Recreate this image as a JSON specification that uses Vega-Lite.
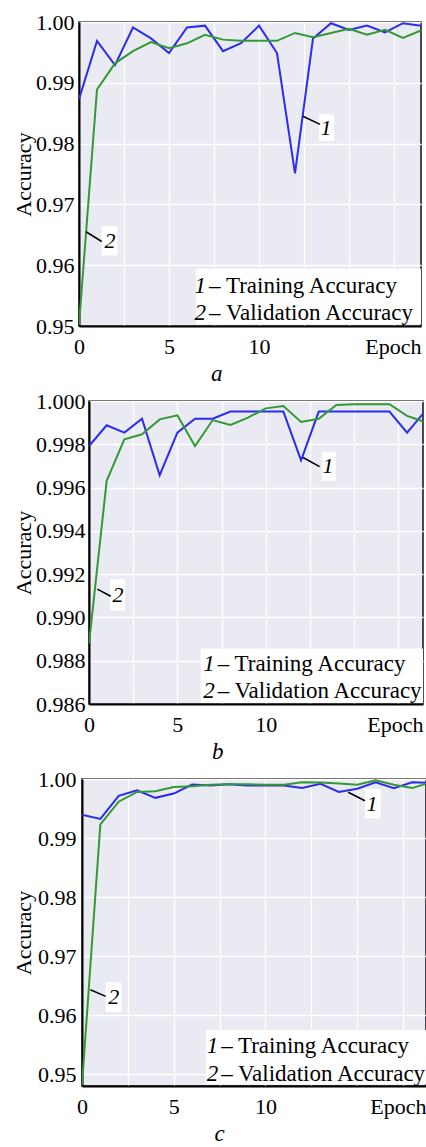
{
  "$schema": "https://vega.github.io/schema/vega-lite/v6.json",
  "padding": {"left": 0, "top": 10, "right": 0, "bottom": 0},
  "spacing": 2,
  "config": {
    "font": "Liberation Serif, Times New Roman, serif",
    "view": {"fill": "#eaeaf2", "stroke": "#111111", "strokeWidth": 1.5},
    "concat": {"spacing": 4},
    "axis": {"labelFont": "Liberation Serif, Times New Roman, serif", "labelFontSize": 22, "labelColor": "#000000", "titleFont": "Liberation Serif, Times New Roman, serif", "titleFontSize": 22, "titleFontWeight": "normal", "titleColor": "#000000", "ticks": false, "grid": true, "gridColor": "#ffffff", "gridWidth": 1.3, "domainColor": "#000000", "domainWidth": 2, "labelOverlap": false, "labelFlush": false},
    "text": {"font": "Liberation Serif, Times New Roman, serif"},
    "title": {"font": "Liberation Serif, Times New Roman, serif", "fontSize": 23, "fontStyle": "italic", "fontWeight": "normal", "color": "#000000", "orient": "bottom", "anchor": "middle", "frame": "bounds", "offset": 6}
  },
  "datasets": {
    "spacer": [{"id": 0}],
    "series": [
      {"p": "a", "s": "Training", "epoch": 0, "acc": 0.9873}, {"p": "a", "s": "Training", "epoch": 1, "acc": 0.9969}, {"p": "a", "s": "Training", "epoch": 2, "acc": 0.9929}, {"p": "a", "s": "Training", "epoch": 3, "acc": 0.9991}, {"p": "a", "s": "Training", "epoch": 4, "acc": 0.9973}, {"p": "a", "s": "Training", "epoch": 5, "acc": 0.9949}, {"p": "a", "s": "Training", "epoch": 6, "acc": 0.9991}, {"p": "a", "s": "Training", "epoch": 7, "acc": 0.9994}, {"p": "a", "s": "Training", "epoch": 8, "acc": 0.9952}, {"p": "a", "s": "Training", "epoch": 9, "acc": 0.9965}, {"p": "a", "s": "Training", "epoch": 10, "acc": 0.9994}, {"p": "a", "s": "Training", "epoch": 11, "acc": 0.9949}, {"p": "a", "s": "Training", "epoch": 12, "acc": 0.9751}, {"p": "a", "s": "Training", "epoch": 13, "acc": 0.9973}, {"p": "a", "s": "Training", "epoch": 14, "acc": 0.9998}, {"p": "a", "s": "Training", "epoch": 15, "acc": 0.9987}, {"p": "a", "s": "Training", "epoch": 16, "acc": 0.9994}, {"p": "a", "s": "Training", "epoch": 17, "acc": 0.9983}, {"p": "a", "s": "Training", "epoch": 18, "acc": 0.9998}, {"p": "a", "s": "Training", "epoch": 19, "acc": 0.9994},
      {"p": "a", "s": "Validation", "epoch": 0, "acc": 0.9502}, {"p": "a", "s": "Validation", "epoch": 1, "acc": 0.9889}, {"p": "a", "s": "Validation", "epoch": 2, "acc": 0.9932}, {"p": "a", "s": "Validation", "epoch": 3, "acc": 0.9952}, {"p": "a", "s": "Validation", "epoch": 4, "acc": 0.9967}, {"p": "a", "s": "Validation", "epoch": 5, "acc": 0.9957}, {"p": "a", "s": "Validation", "epoch": 6, "acc": 0.9965}, {"p": "a", "s": "Validation", "epoch": 7, "acc": 0.9979}, {"p": "a", "s": "Validation", "epoch": 8, "acc": 0.9971}, {"p": "a", "s": "Validation", "epoch": 9, "acc": 0.9969}, {"p": "a", "s": "Validation", "epoch": 10, "acc": 0.9969}, {"p": "a", "s": "Validation", "epoch": 11, "acc": 0.9969}, {"p": "a", "s": "Validation", "epoch": 12, "acc": 0.9982}, {"p": "a", "s": "Validation", "epoch": 13, "acc": 0.9975}, {"p": "a", "s": "Validation", "epoch": 14, "acc": 0.9982}, {"p": "a", "s": "Validation", "epoch": 15, "acc": 0.9989}, {"p": "a", "s": "Validation", "epoch": 16, "acc": 0.9979}, {"p": "a", "s": "Validation", "epoch": 17, "acc": 0.9987}, {"p": "a", "s": "Validation", "epoch": 18, "acc": 0.9974}, {"p": "a", "s": "Validation", "epoch": 19, "acc": 0.9986},
      {"p": "b", "s": "Training", "epoch": 0, "acc": 0.99792}, {"p": "b", "s": "Training", "epoch": 1, "acc": 0.99888}, {"p": "b", "s": "Training", "epoch": 2, "acc": 0.99854}, {"p": "b", "s": "Training", "epoch": 3, "acc": 0.99918}, {"p": "b", "s": "Training", "epoch": 4, "acc": 0.99657}, {"p": "b", "s": "Training", "epoch": 5, "acc": 0.99854}, {"p": "b", "s": "Training", "epoch": 6, "acc": 0.99918}, {"p": "b", "s": "Training", "epoch": 7, "acc": 0.99918}, {"p": "b", "s": "Training", "epoch": 8, "acc": 0.99951}, {"p": "b", "s": "Training", "epoch": 9, "acc": 0.99951}, {"p": "b", "s": "Training", "epoch": 10, "acc": 0.99951}, {"p": "b", "s": "Training", "epoch": 11, "acc": 0.99951}, {"p": "b", "s": "Training", "epoch": 12, "acc": 0.99726}, {"p": "b", "s": "Training", "epoch": 13, "acc": 0.99951}, {"p": "b", "s": "Training", "epoch": 14, "acc": 0.99951}, {"p": "b", "s": "Training", "epoch": 15, "acc": 0.99951}, {"p": "b", "s": "Training", "epoch": 16, "acc": 0.99951}, {"p": "b", "s": "Training", "epoch": 17, "acc": 0.99951}, {"p": "b", "s": "Training", "epoch": 18, "acc": 0.99854}, {"p": "b", "s": "Training", "epoch": 19, "acc": 0.99951},
      {"p": "b", "s": "Validation", "epoch": 0, "acc": 0.9888}, {"p": "b", "s": "Validation", "epoch": 1, "acc": 0.99631}, {"p": "b", "s": "Validation", "epoch": 2, "acc": 0.99823}, {"p": "b", "s": "Validation", "epoch": 3, "acc": 0.99846}, {"p": "b", "s": "Validation", "epoch": 4, "acc": 0.99915}, {"p": "b", "s": "Validation", "epoch": 5, "acc": 0.99934}, {"p": "b", "s": "Validation", "epoch": 6, "acc": 0.99792}, {"p": "b", "s": "Validation", "epoch": 7, "acc": 0.99912}, {"p": "b", "s": "Validation", "epoch": 8, "acc": 0.99889}, {"p": "b", "s": "Validation", "epoch": 9, "acc": 0.99923}, {"p": "b", "s": "Validation", "epoch": 10, "acc": 0.99966}, {"p": "b", "s": "Validation", "epoch": 11, "acc": 0.99977}, {"p": "b", "s": "Validation", "epoch": 12, "acc": 0.99903}, {"p": "b", "s": "Validation", "epoch": 13, "acc": 0.99918}, {"p": "b", "s": "Validation", "epoch": 14, "acc": 0.99982}, {"p": "b", "s": "Validation", "epoch": 15, "acc": 0.99985}, {"p": "b", "s": "Validation", "epoch": 16, "acc": 0.99985}, {"p": "b", "s": "Validation", "epoch": 17, "acc": 0.99985}, {"p": "b", "s": "Validation", "epoch": 18, "acc": 0.99931}, {"p": "b", "s": "Validation", "epoch": 19, "acc": 0.99903},
      {"p": "c", "s": "Training", "epoch": 0, "acc": 0.99396}, {"p": "c", "s": "Training", "epoch": 1, "acc": 0.99325}, {"p": "c", "s": "Training", "epoch": 2, "acc": 0.99714}, {"p": "c", "s": "Training", "epoch": 3, "acc": 0.99808}, {"p": "c", "s": "Training", "epoch": 4, "acc": 0.99681}, {"p": "c", "s": "Training", "epoch": 5, "acc": 0.99753}, {"p": "c", "s": "Training", "epoch": 6, "acc": 0.99907}, {"p": "c", "s": "Training", "epoch": 7, "acc": 0.9989}, {"p": "c", "s": "Training", "epoch": 8, "acc": 0.99912}, {"p": "c", "s": "Training", "epoch": 9, "acc": 0.9989}, {"p": "c", "s": "Training", "epoch": 10, "acc": 0.9989}, {"p": "c", "s": "Training", "epoch": 11, "acc": 0.9989}, {"p": "c", "s": "Training", "epoch": 12, "acc": 0.99846}, {"p": "c", "s": "Training", "epoch": 13, "acc": 0.99918}, {"p": "c", "s": "Training", "epoch": 14, "acc": 0.9978}, {"p": "c", "s": "Training", "epoch": 15, "acc": 0.99835}, {"p": "c", "s": "Training", "epoch": 16, "acc": 0.99945}, {"p": "c", "s": "Training", "epoch": 17, "acc": 0.99846}, {"p": "c", "s": "Training", "epoch": 18, "acc": 0.99945}, {"p": "c", "s": "Training", "epoch": 19, "acc": 0.99934},
      {"p": "c", "s": "Validation", "epoch": 0, "acc": 0.9482}, {"p": "c", "s": "Validation", "epoch": 1, "acc": 0.99231}, {"p": "c", "s": "Validation", "epoch": 2, "acc": 0.99616}, {"p": "c", "s": "Validation", "epoch": 3, "acc": 0.9978}, {"p": "c", "s": "Validation", "epoch": 4, "acc": 0.99791}, {"p": "c", "s": "Validation", "epoch": 5, "acc": 0.99863}, {"p": "c", "s": "Validation", "epoch": 6, "acc": 0.99879}, {"p": "c", "s": "Validation", "epoch": 7, "acc": 0.99901}, {"p": "c", "s": "Validation", "epoch": 8, "acc": 0.99912}, {"p": "c", "s": "Validation", "epoch": 9, "acc": 0.99912}, {"p": "c", "s": "Validation", "epoch": 10, "acc": 0.99901}, {"p": "c", "s": "Validation", "epoch": 11, "acc": 0.99901}, {"p": "c", "s": "Validation", "epoch": 12, "acc": 0.99945}, {"p": "c", "s": "Validation", "epoch": 13, "acc": 0.9994}, {"p": "c", "s": "Validation", "epoch": 14, "acc": 0.99923}, {"p": "c", "s": "Validation", "epoch": 15, "acc": 0.99901}, {"p": "c", "s": "Validation", "epoch": 16, "acc": 0.99978}, {"p": "c", "s": "Validation", "epoch": 17, "acc": 0.99901}, {"p": "c", "s": "Validation", "epoch": 18, "acc": 0.99846}, {"p": "c", "s": "Validation", "epoch": 19, "acc": 0.99945}
    ],
    "boxes": [
      {"p": "a", "x1": 13.33, "x2": 14.17, "y1": 0.98482, "y2": 0.98039},
      {"p": "a", "x1": 1.26, "x2": 2.13, "y1": 0.9664, "y2": 0.9616},
      {"p": "a", "x1": 6.5, "x2": 19, "y1": 0.9594, "y2": 0.9503},
      {"p": "b", "x1": 13.19, "x2": 13.96, "y1": 0.99765, "y2": 0.99631},
      {"p": "b", "x1": 1.19, "x2": 2.05, "y1": 0.99177, "y2": 0.99031},
      {"p": "b", "x1": 6.32, "x2": 18.9, "y1": 0.98857, "y2": 0.98605},
      {"p": "c", "x1": 15.42, "x2": 16.28, "y1": 0.99831, "y2": 0.99334},
      {"p": "c", "x1": 1.29, "x2": 2.15, "y1": 0.96557, "y2": 0.96048},
      {"p": "c", "x1": 6.75, "x2": 18.75, "y1": 0.95749, "y2": 0.9483}
    ],
    "leaders": [
      {"p": "a", "x1": 12.44, "x2": 13.39, "y1": 0.98449, "y2": 0.98317},
      {"p": "a", "x1": 0.39, "x2": 1.26, "y1": 0.9655, "y2": 0.9639},
      {"p": "b", "x1": 12.11, "x2": 13.05, "y1": 0.99739, "y2": 0.99697},
      {"p": "b", "x1": 0.47, "x2": 1.23, "y1": 0.99131, "y2": 0.99098},
      {"p": "c", "x1": 14.51, "x2": 15.42, "y1": 0.99775, "y2": 0.99632},
      {"p": "c", "x1": 0.46, "x2": 1.29, "y1": 0.96431, "y2": 0.96319}
    ],
    "tags": [
      {"p": "a", "num": "1", "epoch": 13.72, "acc": 0.98252},
      {"p": "a", "num": "2", "epoch": 1.72, "acc": 0.9639},
      {"p": "b", "num": "1", "epoch": 13.53, "acc": 0.99699},
      {"p": "b", "num": "2", "epoch": 1.64, "acc": 0.99103},
      {"p": "c", "num": "1", "epoch": 15.8, "acc": 0.99577},
      {"p": "c", "num": "2", "epoch": 1.73, "acc": 0.96308}
    ],
    "legend": [
      {"p": "a", "num": "1", "desc": "– Training Accuracy", "epoch": 7.06, "acc": 0.9555},
      {"p": "a", "num": "2", "desc": "– Validation Accuracy", "epoch": 7.06, "acc": 0.951},
      {"p": "b", "num": "1", "desc": "– Training Accuracy", "epoch": 7.11, "acc": 0.98754},
      {"p": "b", "num": "2", "desc": "– Validation Accuracy", "epoch": 7.11, "acc": 0.98628},
      {"p": "c", "num": "1", "desc": "– Training Accuracy", "epoch": 7.42, "acc": 0.95359},
      {"p": "c", "num": "2", "desc": "– Validation Accuracy", "epoch": 7.42, "acc": 0.9489}
    ]
  },
  "vconcat": [
    {"hconcat": [
      {"width": 1, "height": 1, "data": {"name": "spacer"}, "mark": {"type": "point", "opacity": 0}, "view": {"fill": null, "stroke": null}},
      {
      "width": 342, "height": 304,
      "title": {"text": "a"},
      "layer": [
        {"data": {"name": "series"}, "transform": [{"filter": "datum.p == 'a'"}], "mark": {"type": "line", "strokeWidth": 2, "clip": true},
         "encoding": {
           "x": {"field": "epoch", "type": "quantitative", "scale": {"domain": [0, 19], "nice": false, "zero": false},
                 "axis": {"values": [0, 2.5, 5, 7.5, 10, 12.5, 15, 17.5], "labelExpr": "datum.value % 5 == 0 && datum.value <= 10 ? format(datum.value, 'd') : ''", "labelPadding": 10, "title": "Epoch", "titleAnchor": "end", "titleBaseline": "alphabetic", "titleY": 27}},
           "y": {"field": "acc", "type": "quantitative", "scale": {"domain": [0.95, 1.0], "nice": false, "zero": false},
                 "axis": {"values": [0.95, 0.96, 0.97, 0.98, 0.99, 1.0], "format": ".2f", "labelPadding": 5, "title": "Accuracy", "titlePadding": 0}},
           "color": {"field": "s", "type": "nominal", "scale": {"domain": ["Training", "Validation"], "range": ["#2b2bf2", "#339933"]}, "legend": null},
           "order": {"field": "epoch"}
         }},
        {"data": {"name": "boxes"}, "transform": [{"filter": "datum.p == 'a'"}], "mark": {"type": "rect", "fill": "#ffffff"},
         "encoding": {"x": {"field": "x1", "type": "quantitative", "scale": {"domain": [0, 19], "nice": false, "zero": false}}, "x2": {"field": "x2"}, "y": {"field": "y1", "type": "quantitative", "scale": {"domain": [0.95, 1.0], "nice": false, "zero": false}}, "y2": {"field": "y2"}}},
        {"data": {"name": "leaders"}, "transform": [{"filter": "datum.p == 'a'"}], "mark": {"type": "rule", "stroke": "#000000", "strokeWidth": 1.5},
         "encoding": {"x": {"field": "x1", "type": "quantitative", "scale": {"domain": [0, 19], "nice": false, "zero": false}}, "x2": {"field": "x2"}, "y": {"field": "y1", "type": "quantitative", "scale": {"domain": [0.95, 1.0], "nice": false, "zero": false}}, "y2": {"field": "y2"}}},
        {"data": {"name": "tags"}, "transform": [{"filter": "datum.p == 'a'"}], "mark": {"type": "text", "fontSize": 22, "fontStyle": "italic", "align": "center", "baseline": "middle", "color": "#000000"},
         "encoding": {"x": {"field": "epoch", "type": "quantitative", "scale": {"domain": [0, 19], "nice": false, "zero": false}}, "y": {"field": "acc", "type": "quantitative", "scale": {"domain": [0.95, 1.0], "nice": false, "zero": false}}, "text": {"field": "num"}}},
        {"data": {"name": "legend"}, "transform": [{"filter": "datum.p == 'a'"}], "mark": {"type": "text", "fontSize": 23, "fontStyle": "italic", "align": "right", "baseline": "alphabetic", "color": "#000000"},
         "encoding": {"x": {"field": "epoch", "type": "quantitative", "scale": {"domain": [0, 19], "nice": false, "zero": false}}, "y": {"field": "acc", "type": "quantitative", "scale": {"domain": [0.95, 1.0], "nice": false, "zero": false}}, "text": {"field": "num"}}},
        {"data": {"name": "legend"}, "transform": [{"filter": "datum.p == 'a'"}], "mark": {"type": "text", "fontSize": 23, "align": "left", "baseline": "alphabetic", "dx": 3, "color": "#000000"},
         "encoding": {"x": {"field": "epoch", "type": "quantitative", "scale": {"domain": [0, 19], "nice": false, "zero": false}}, "y": {"field": "acc", "type": "quantitative", "scale": {"domain": [0.95, 1.0], "nice": false, "zero": false}}, "text": {"field": "desc"}}}
      ]
    }]},
    {"hconcat": [
      {"width": 1, "height": 1, "data": {"name": "spacer"}, "mark": {"type": "point", "opacity": 0}, "view": {"fill": null, "stroke": null}},
      {
      "width": 334, "height": 303,
      "title": {"text": "b"},
      "layer": [
        {"data": {"name": "series"}, "transform": [{"filter": "datum.p == 'b'"}], "mark": {"type": "line", "strokeWidth": 2, "clip": true},
         "encoding": {
           "x": {"field": "epoch", "type": "quantitative", "scale": {"domain": [0, 18.9], "nice": false, "zero": false},
                 "axis": {"values": [0, 2.5, 5, 7.5, 10, 12.5, 15, 17.5], "labelExpr": "datum.value % 5 == 0 && datum.value <= 10 ? format(datum.value, 'd') : ''", "labelPadding": 10, "title": "Epoch", "titleAnchor": "end", "titleBaseline": "alphabetic", "titleY": 27}},
           "y": {"field": "acc", "type": "quantitative", "scale": {"domain": [0.986, 1.0], "nice": false, "zero": false},
                 "axis": {"values": [0.986, 0.988, 0.99, 0.992, 0.994, 0.996, 0.998, 1.0], "format": ".3f", "labelPadding": 4, "title": "Accuracy", "titlePadding": 0.5}},
           "color": {"field": "s", "type": "nominal", "scale": {"domain": ["Training", "Validation"], "range": ["#2b2bf2", "#339933"]}, "legend": null},
           "order": {"field": "epoch"}
         }},
        {"data": {"name": "boxes"}, "transform": [{"filter": "datum.p == 'b'"}], "mark": {"type": "rect", "fill": "#ffffff", "clip": true},
         "encoding": {"x": {"field": "x1", "type": "quantitative", "scale": {"domain": [0, 18.9], "nice": false, "zero": false}}, "x2": {"field": "x2"}, "y": {"field": "y1", "type": "quantitative", "scale": {"domain": [0.986, 1.0], "nice": false, "zero": false}}, "y2": {"field": "y2"}}},
        {"data": {"name": "leaders"}, "transform": [{"filter": "datum.p == 'b'"}], "mark": {"type": "rule", "stroke": "#000000", "strokeWidth": 1.5},
         "encoding": {"x": {"field": "x1", "type": "quantitative", "scale": {"domain": [0, 18.9], "nice": false, "zero": false}}, "x2": {"field": "x2"}, "y": {"field": "y1", "type": "quantitative", "scale": {"domain": [0.986, 1.0], "nice": false, "zero": false}}, "y2": {"field": "y2"}}},
        {"data": {"name": "tags"}, "transform": [{"filter": "datum.p == 'b'"}], "mark": {"type": "text", "fontSize": 22, "fontStyle": "italic", "align": "center", "baseline": "middle", "color": "#000000"},
         "encoding": {"x": {"field": "epoch", "type": "quantitative", "scale": {"domain": [0, 18.9], "nice": false, "zero": false}}, "y": {"field": "acc", "type": "quantitative", "scale": {"domain": [0.986, 1.0], "nice": false, "zero": false}}, "text": {"field": "num"}}},
        {"data": {"name": "legend"}, "transform": [{"filter": "datum.p == 'b'"}], "mark": {"type": "text", "fontSize": 23, "fontStyle": "italic", "align": "right", "baseline": "alphabetic", "color": "#000000"},
         "encoding": {"x": {"field": "epoch", "type": "quantitative", "scale": {"domain": [0, 18.9], "nice": false, "zero": false}}, "y": {"field": "acc", "type": "quantitative", "scale": {"domain": [0.986, 1.0], "nice": false, "zero": false}}, "text": {"field": "num"}}},
        {"data": {"name": "legend"}, "transform": [{"filter": "datum.p == 'b'"}], "mark": {"type": "text", "fontSize": 23, "align": "left", "baseline": "alphabetic", "dx": 3, "color": "#000000"},
         "encoding": {"x": {"field": "epoch", "type": "quantitative", "scale": {"domain": [0, 18.9], "nice": false, "zero": false}}, "y": {"field": "acc", "type": "quantitative", "scale": {"domain": [0.986, 1.0], "nice": false, "zero": false}}, "text": {"field": "desc"}}}
      ]
    }]},
    {"hconcat": [
      {"width": 1, "height": 1, "data": {"name": "spacer"}, "mark": {"type": "point", "opacity": 0}, "view": {"fill": null, "stroke": null}},
      {
      "width": 344, "height": 307,
      "title": {"text": "c"},
      "layer": [
        {"data": {"name": "series"}, "transform": [{"filter": "datum.p == 'c'"}], "mark": {"type": "line", "strokeWidth": 2, "clip": true},
         "encoding": {
           "x": {"field": "epoch", "type": "quantitative", "scale": {"domain": [0, 18.75], "nice": false, "zero": false},
                 "axis": {"values": [0, 2.5, 5, 7.5, 10, 12.5, 15, 17.5], "labelExpr": "datum.value % 5 == 0 && datum.value <= 10 ? format(datum.value, 'd') : ''", "labelPadding": 10, "title": "Epoch", "titleAnchor": "end", "titleBaseline": "alphabetic", "titleY": 27}},
           "y": {"field": "acc", "type": "quantitative", "scale": {"domain": [0.948, 1.0], "nice": false, "zero": false},
                 "axis": {"values": [0.95, 0.96, 0.97, 0.98, 0.99, 1.0], "format": ".2f", "labelPadding": 6, "title": "Accuracy", "titlePadding": 2}},
           "color": {"field": "s", "type": "nominal", "scale": {"domain": ["Training", "Validation"], "range": ["#2b2bf2", "#339933"]}, "legend": null},
           "order": {"field": "epoch"}
         }},
        {"data": {"name": "boxes"}, "transform": [{"filter": "datum.p == 'c'"}], "mark": {"type": "rect", "fill": "#ffffff", "clip": true},
         "encoding": {"x": {"field": "x1", "type": "quantitative", "scale": {"domain": [0, 18.75], "nice": false, "zero": false}}, "x2": {"field": "x2"}, "y": {"field": "y1", "type": "quantitative", "scale": {"domain": [0.948, 1.0], "nice": false, "zero": false}}, "y2": {"field": "y2"}}},
        {"data": {"name": "leaders"}, "transform": [{"filter": "datum.p == 'c'"}], "mark": {"type": "rule", "stroke": "#000000", "strokeWidth": 1.5},
         "encoding": {"x": {"field": "x1", "type": "quantitative", "scale": {"domain": [0, 18.75], "nice": false, "zero": false}}, "x2": {"field": "x2"}, "y": {"field": "y1", "type": "quantitative", "scale": {"domain": [0.948, 1.0], "nice": false, "zero": false}}, "y2": {"field": "y2"}}},
        {"data": {"name": "tags"}, "transform": [{"filter": "datum.p == 'c'"}], "mark": {"type": "text", "fontSize": 22, "fontStyle": "italic", "align": "center", "baseline": "middle", "color": "#000000"},
         "encoding": {"x": {"field": "epoch", "type": "quantitative", "scale": {"domain": [0, 18.75], "nice": false, "zero": false}}, "y": {"field": "acc", "type": "quantitative", "scale": {"domain": [0.948, 1.0], "nice": false, "zero": false}}, "text": {"field": "num"}}},
        {"data": {"name": "legend"}, "transform": [{"filter": "datum.p == 'c'"}], "mark": {"type": "text", "fontSize": 23, "fontStyle": "italic", "align": "right", "baseline": "alphabetic", "color": "#000000"},
         "encoding": {"x": {"field": "epoch", "type": "quantitative", "scale": {"domain": [0, 18.75], "nice": false, "zero": false}}, "y": {"field": "acc", "type": "quantitative", "scale": {"domain": [0.948, 1.0], "nice": false, "zero": false}}, "text": {"field": "num"}}},
        {"data": {"name": "legend"}, "transform": [{"filter": "datum.p == 'c'"}], "mark": {"type": "text", "fontSize": 23, "align": "left", "baseline": "alphabetic", "dx": 3, "color": "#000000"},
         "encoding": {"x": {"field": "epoch", "type": "quantitative", "scale": {"domain": [0, 18.75], "nice": false, "zero": false}}, "y": {"field": "acc", "type": "quantitative", "scale": {"domain": [0.948, 1.0], "nice": false, "zero": false}}, "text": {"field": "desc"}}}
      ]
    }]}
  ]
}
